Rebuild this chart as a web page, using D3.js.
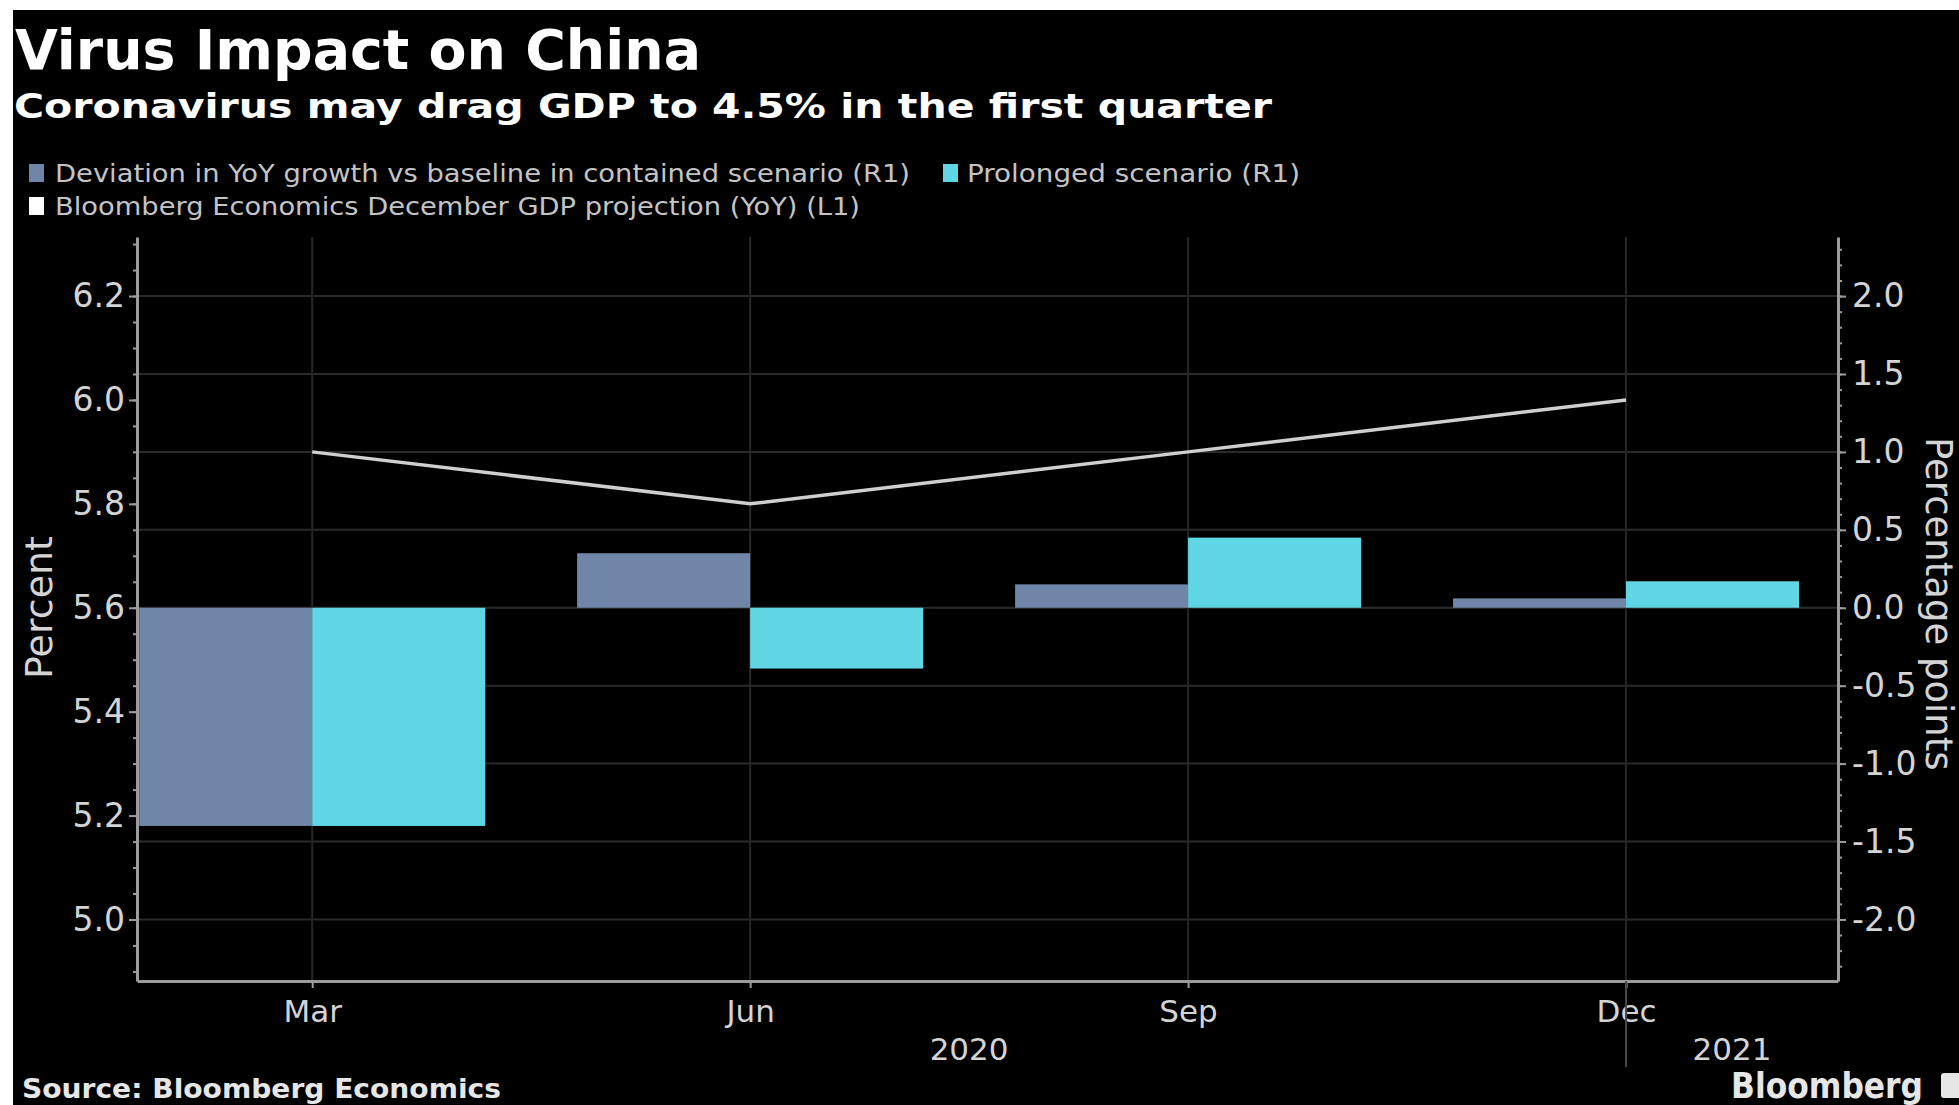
<!DOCTYPE html>
<html>
<head>
<meta charset="utf-8">
<script src="https://cdn.jsdelivr.net/npm/d3@7"></script>
<style>
  html, body { margin: 0; padding: 0; background: #ffffff; }
  svg { display: block; }
  text { font-family: "DejaVu Sans", sans-serif; }
</style>
</head>
<body>
<svg id="chart" width="1959" height="1105"></svg>
<script>
// ---------- data ----------
const quarters = ["Mar", "Jun", "Sep", "Dec"];
const containedDev = [-1.4, 0.35, 0.15, 0.06];   // pp, right axis
const prolongedDev = [-1.4, -0.39, 0.45, 0.17];  // pp, right axis
const gdpProjection = [5.9, 5.8, 5.9, 6.0];      // %, left axis
const leftTicks = [5.0, 5.2, 5.4, 5.6, 5.8, 6.0, 6.2];
const rightTicks = [-2.0, -1.5, -1.0, -0.5, 0.0, 0.5, 1.0, 1.5, 2.0];
const years = [{label: "2020", from: 0, to: 3}, {label: "2021", from: 3, to: 3.484}];
const legendItems = [
  "Deviation in YoY growth vs baseline in contained scenario (R1)",
  "Prolonged scenario (R1)",
  "Bloomberg Economics December GDP projection (YoY) (L1)"
];

// ---------- layout ----------
const W = 1959, H = 1105;
const plot = {left: 137, right: 1838, top: 237, bottom: 981};
const colContained = "#7086a8", colProlonged = "#60d6e4", colLine = "#cfcfcf";
const axisCol = "#9c9c9c", gridCol = "#2a2a2a", tickText = "#d4d4d4";
const barW = 0.395;

const svg = d3.select("#chart");
svg.append("rect").attr("x", 13).attr("y", 10).attr("width", W - 13).attr("height", H - 10).attr("fill", "#000");

const x = d3.scaleLinear().domain([-0.40, 3.484]).range([plot.left, plot.right]);
const yL = d3.scaleLinear().domain([4.8816, 6.3136]).range([plot.bottom, plot.top]);
const yR = d3.scaleLinear().domain([-2.395, 2.379]).range([plot.bottom, plot.top]);

function fit(sel, w) { sel.attr("textLength", w).attr("lengthAdjust", "spacingAndGlyphs"); return sel; }

// ---------- title ----------
fit(svg.append("text").attr("x", 15).attr("y", 69).attr("fill", "#fff")
  .attr("font-size", 55).attr("font-weight", "bold").text("Virus Impact on China"), 686);
fit(svg.append("text").attr("x", 14).attr("y", 118).attr("fill", "#fff")
  .attr("font-size", 34).attr("font-weight", "bold")
  .text("Coronavirus may drag GDP to 4.5% in the first quarter"), 1258);

// ---------- legend ----------
const lg = svg.append("g");
const legendPos = [
  {sx: 29, tx: 55, y: 182, w: 855, col: colContained},
  {sx: 943, tx: 967, y: 182, w: 333, col: colProlonged},
  {sx: 29, tx: 55, y: 215, w: 805, col: "#ffffff"}
];
legendItems.forEach((t, i) => {
  const p = legendPos[i];
  lg.append("rect").attr("x", p.sx).attr("y", p.y - 18).attr("width", 15).attr("height", 18).attr("fill", p.col);
  fit(lg.append("text").attr("x", p.tx).attr("y", p.y).attr("fill", "#c4c4c4").attr("font-size", 25).text(t), p.w);
});

// ---------- grid ----------
const grid = svg.append("g");
grid.selectAll("line.h").data(rightTicks).join("line")
  .attr("x1", plot.left).attr("x2", plot.right)
  .attr("y1", d => yR(d)).attr("y2", d => yR(d))
  .attr("stroke", gridCol).attr("stroke-width", 2);
grid.selectAll("line.v").data(quarters).join("line")
  .attr("x1", (d, i) => x(i)).attr("x2", (d, i) => x(i))
  .attr("y1", plot.top).attr("y2", plot.bottom)
  .attr("stroke", "#262626").attr("stroke-width", 2);

// ---------- bars ----------
const bars = svg.append("g");
bars.selectAll("rect.c").data(containedDev).join("rect")
  .attr("x", (d, i) => x(i - barW)).attr("width", (d, i) => x(i) - x(i - barW))
  .attr("y", d => yR(Math.max(0, d))).attr("height", d => Math.abs(yR(d) - yR(0)))
  .attr("fill", colContained);
bars.selectAll("rect.p").data(prolongedDev).join("rect")
  .attr("x", (d, i) => x(i)).attr("width", (d, i) => x(i + barW) - x(i))
  .attr("y", d => yR(Math.max(0, d))).attr("height", d => Math.abs(yR(d) - yR(0)))
  .attr("fill", colProlonged);

// ---------- line ----------
svg.append("path").datum(gdpProjection)
  .attr("d", d3.line().x((d, i) => x(i)).y(d => yL(d)))
  .attr("fill", "none").attr("stroke", colLine).attr("stroke-width", 3.5);

// ---------- axes ----------
function styleAxis(g) {
  g.selectAll(".domain").attr("stroke", axisCol).attr("stroke-width", 3);
  g.selectAll(".tick line").attr("stroke", axisCol).attr("stroke-width", 2);
  g.selectAll(".tick text").attr("fill", tickText).attr("font-family", "DejaVu Sans");
}
// minor ticks
const leftMinor = d3.range(4.9, 6.31, 0.05);
const rightMinor = d3.range(-2.3, 2.38, 0.1);
svg.append("g").attr("transform", `translate(${plot.left},0)`)
  .call(d3.axisLeft(yL).tickValues(leftMinor).tickSize(4).tickFormat("").tickSizeOuter(0))
  .call(g => { g.select(".domain").remove(); g.selectAll("line").attr("stroke", axisCol).attr("stroke-width", 2); });
svg.append("g").attr("transform", `translate(${plot.right},0)`)
  .call(d3.axisRight(yR).tickValues(rightMinor).tickSize(4).tickFormat("").tickSizeOuter(0))
  .call(g => { g.select(".domain").remove(); g.selectAll("line").attr("stroke", axisCol).attr("stroke-width", 2); });

const axL = svg.append("g").attr("transform", `translate(${plot.left},0)`)
  .call(d3.axisLeft(yL).tickValues(leftTicks).tickFormat(d3.format(".1f")).tickSize(8).tickSizeOuter(0).tickPadding(4));
styleAxis(axL); axL.selectAll(".tick text").attr("font-size", 33);

const axR = svg.append("g").attr("transform", `translate(${plot.right},0)`)
  .call(d3.axisRight(yR).tickValues(rightTicks).tickFormat(d => d3.format(".1f")(d).replace("−", "-")).tickSize(8).tickSizeOuter(0).tickPadding(6));
styleAxis(axR); axR.selectAll(".tick text").attr("font-size", 33);

const axB = svg.append("g").attr("transform", `translate(0,${plot.bottom})`)
  .call(d3.axisBottom(x).tickValues(d3.range(quarters.length)).tickFormat(i => quarters[i]).tickSize(7).tickSizeOuter(0).tickPadding(12));
styleAxis(axB); axB.selectAll(".tick text").attr("font-size", 31);

// year separator + labels
svg.append("line").attr("x1", x(3)).attr("x2", x(3)).attr("y1", plot.bottom).attr("y2", 1067)
  .attr("stroke", "#4a4a4a").attr("stroke-width", 2);
svg.selectAll("text.year").data(years).join("text")
  .attr("x", d => (x(d.from) + x(d.to)) / 2).attr("y", 1060)
  .attr("text-anchor", "middle").attr("fill", tickText).attr("font-size", 31).text(d => d.label);

// axis titles
svg.append("text").attr("transform", `translate(52,${(533 + 682) / 2}) rotate(-90)`)
  .attr("text-anchor", "middle").attr("fill", tickText).attr("font-size", 38).text("Percent");
svg.append("text").attr("transform", `translate(1926,437) rotate(90)`)
  .attr("text-anchor", "start").attr("fill", tickText).attr("font-size", 37).text("Percentage points");

// footer
fit(svg.append("text").attr("x", 22).attr("y", 1098).attr("fill", "#e6e6e6")
  .attr("font-size", 27).attr("font-weight", "bold").text("Source: Bloomberg Economics"), 479);
fit(svg.append("text").attr("x", 1731).attr("y", 1098).attr("fill", "#e6e6e6")
  .attr("font-size", 35).attr("font-weight", "bold").text("Bloomberg"), 192);
svg.append("rect").attr("x", 1941).attr("y", 1073).attr("width", 22).attr("height", 25).attr("rx", 3).attr("fill", "#e6e6e6");
</script>
</body>
</html>
